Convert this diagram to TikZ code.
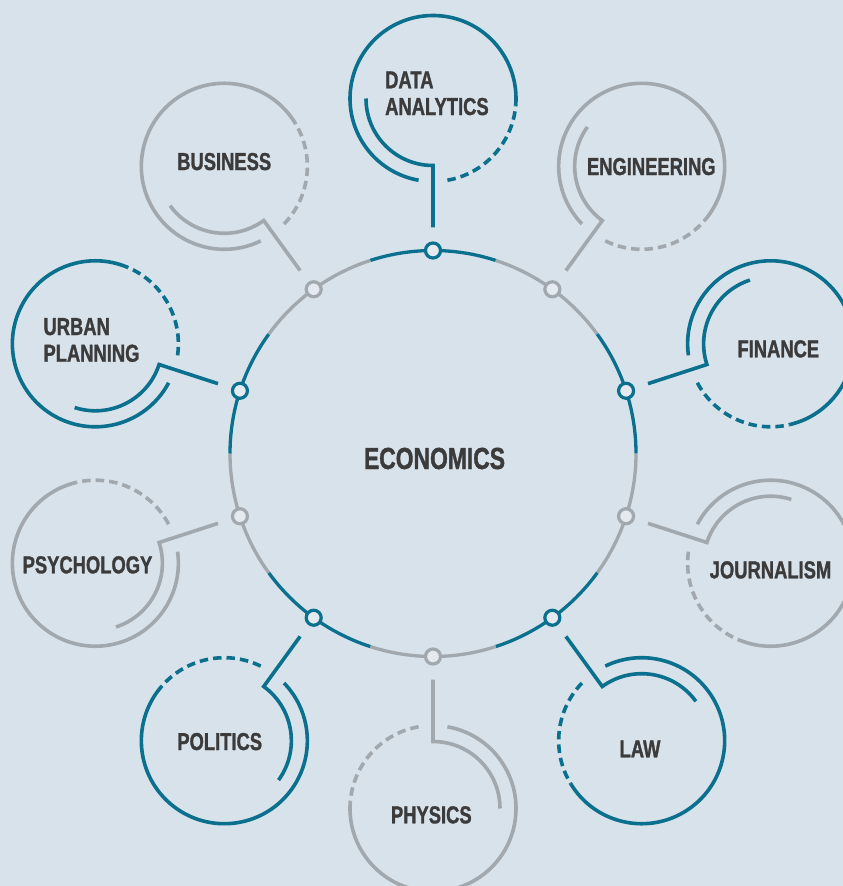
\documentclass[tikz,border=0pt]{standalone}
\usepackage{fontspec}
\newfontfamily\labfont[FakeStretch=0.75,FakeBold=1.2]{Liberation Sans}
\definecolor{bgc}{HTML}{D8E2EA}
\definecolor{tealc}{HTML}{0A708E}
\definecolor{grayc}{HTML}{A1A8AE}
\definecolor{txtc}{HTML}{3B3B3B}
\definecolor{dotfill}{HTML}{E4EAEF}
\begin{document}
\begin{tikzpicture}[x=1pt,y=1pt,
  lab/.style={font=\labfont\bfseries\fontsize{24.5}{26.7}\selectfont, text=txtc, inner sep=0pt, anchor=base},
  mainarc/.style={line width=3.3pt},
  ring/.style={line width=3.6pt},
  dashring/.style={line width=3.6pt, dash pattern=on 8.5pt off 5pt},
  dot/.style={circle, draw=#1, fill=dotfill, line width=3.2pt, minimum size=15pt, inner sep=0pt},
  link/.style={line width=3.6pt, shorten <=14pt, line join=miter}
]
\fill[bgc] (0,0) rectangle (843,-886);
\useasboundingbox (0,0) rectangle (843,-886);
\coordinate (M) at (433,-453.5);
% main circle segments
\foreach \a/\c in {90/tealc,54/grayc,18/tealc,-18/grayc,-54/tealc,-90/grayc,-126/tealc,-162/grayc,162/tealc,126/grayc}{
  \draw[mainarc,\c] (M) ++({\a-18}:203) arc[start angle=\a-18, end angle=\a+18, radius=203];
}
% satellites
\foreach \i/\a/\c in {1/90/tealc,2/54/grayc,3/18/tealc,4/-18/grayc,5/-54/tealc,6/-90/grayc,7/-126/tealc,8/-162/grayc,9/162/tealc,10/126/grayc}{
  \node[dot=\c] (d\i) at ([shift={(\a:203)}]M) {};
  \coordinate (c\i) at ([shift={(\a:355)}]M);
  \coordinate (k\i) at ([shift={({\a+180}:67)}]c\i);
  \draw[link,\c] (d\i) -- (k\i) arc[start angle=\a+180, end angle=\a+90, radius=67];
  \draw[ring,\c] (c\i) ++({\a+265}:83) arc[start angle=\a+265, end angle=\a+530, radius=83];
  \draw[dashring,\c] (c\i) ++({\a+190}:83) arc[start angle=\a+190, end angle=\a+265, radius=83];
}
% labels
\node[lab, anchor=base west, align=left] (l1) at (385,-115) {DATA\\ANALYTICS};
\node[lab] (l2) at (651.3,-175) {ENGINEERING};
\node[lab] (l3) at (778.3,-357.3) {FINANCE};
\node[lab] (l4) at (770.5,-578.3) {JOURNALISM};
\node[lab] (l5) at (640,-757.3) {LAW};
\node[lab] (l6) at (431.3,-823.3) {PHYSICS};
\node[lab] (l7) at (219.7,-750) {POLITICS};
\node[lab] (l8) at (87.5,-573.3) {PSYCHOLOGY};
\node[lab, anchor=base west, align=left] (l9) at (43.3,-361.7) {URBAN\\PLANNING};
\node[lab] (l10) at (224.2,-170) {BUSINESS};
\node[lab, font=\labfont\bfseries\fontsize{30.5}{32}\selectfont] (eco) at (434.5,-469) {ECONOMICS};
\end{tikzpicture}
\end{document}
